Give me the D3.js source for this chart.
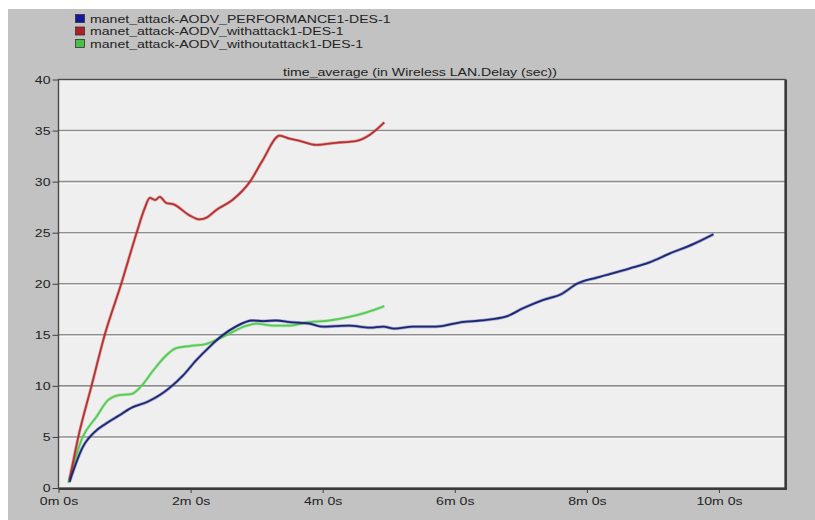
<!DOCTYPE html>
<html>
<head>
<meta charset="utf-8">
<script src="https://cdn.jsdelivr.net/npm/d3@7"></script>
<style>
  html, body { margin: 0; padding: 0; background: #ffffff; }
  svg { display: block; }
  text { font-family: "Liberation Sans", Arial, sans-serif; }
</style>
</head>
<body>
<script>
// ---- data (time in seconds, delay in seconds) ----
const seriesNames = [
  "manet_attack-AODV_PERFORMANCE1-DES-1",
  "manet_attack-AODV_withattack1-DES-1",
  "manet_attack-AODV_withoutattack1-DES-1"
];
const seriesColors = ["#1c2678", "#b83030", "#55cc55"];
const legendColors = ["#16169a", "#b02028", "#48c048"];

const blueT = [10, 22, 34, 43, 55, 67, 80, 92, 102, 113, 125, 137, 149, 161, 176, 186, 198, 210, 228, 240, 252, 264, 283, 295, 305, 322, 343, 364, 383, 407, 422, 440, 457, 471, 489, 519, 537, 555, 577, 595];
const blueV = [0.6, 4.0, 5.6, 6.3, 7.1, 7.9, 8.4, 9.1, 9.9, 11.0, 12.5, 13.8, 14.95, 15.8, 16.4, 16.35, 16.4, 16.25, 16.1, 15.8, 15.85, 15.9, 15.7, 15.8, 15.6, 15.8, 15.8, 16.2, 16.4, 16.8, 17.6, 18.4, 19.0, 20.0, 20.6, 21.5, 22.1, 22.95, 23.9, 24.85];

const redT = [10, 18, 30, 42, 57, 71, 78, 83, 88, 92, 98, 104, 119, 128, 135, 143, 158, 174, 185, 201, 210, 219, 234, 252, 271, 283, 296];
const redV = [0.8, 5.0, 10.0, 15.0, 20.0, 25.0, 27.3, 28.4, 28.2, 28.5, 27.9, 27.8, 26.7, 26.3, 26.5, 27.2, 28.2, 30.0, 32.0, 34.5, 34.2, 34.0, 33.6, 33.8, 34.0, 34.6, 35.8];

const greenT = [9, 22, 34, 45, 55, 66, 75, 86, 98, 107, 119, 134, 152, 171, 180, 195, 210, 228, 246, 264, 280, 296];
const greenV = [0.5, 5.0, 6.9, 8.6, 9.1, 9.2, 9.95, 11.5, 13.0, 13.7, 13.9, 14.1, 14.95, 15.9, 16.1, 15.9, 15.9, 16.25, 16.4, 16.75, 17.2, 17.8];

const xTickVals = [0, 120, 240, 360, 480, 600];
const xTickLabels = ["0m 0s", "2m 0s", "4m 0s", "6m 0s", "8m 0s", "10m 0s"];
const yTickVals = [0, 5, 10, 15, 20, 25, 30, 35, 40];
const chartTitle = "time_average (in Wireless LAN.Delay (sec))";

// ---- layout ----
const W = 815, H = 520;
const plot = { left: 58.5, right: 785, top: 79.5, bottom: 488 };
const FONT = '"Liberation Sans", Arial, sans-serif';
const STRETCH = 1.28;

const svg = d3.select("body").append("svg").attr("width", W).attr("height", H);

// widen text horizontally, like the reference's stretched rendering
function stretch(sel) {
  sel.each(function () {
    const w = this.getComputedTextLength();
    d3.select(this).attr("textLength", w * STRETCH).attr("lengthAdjust", "spacingAndGlyphs");
  });
}

// outer gray panel
svg.append("rect").attr("x", 8).attr("y", 9).attr("width", W - 8).attr("height", H - 9)
  .attr("fill", "#c2c2c2");

const x = d3.scaleLinear().domain([0, 660]).range([plot.left, plot.right]);
const y = d3.scaleLinear().domain([0, 40]).range([plot.bottom, plot.top]);

// plot background
svg.append("rect")
  .attr("x", plot.left).attr("y", plot.top)
  .attr("width", plot.right - plot.left).attr("height", plot.bottom - plot.top)
  .attr("fill", "#efefef");

// gridlines (grooved look)
const gridVals = yTickVals.filter(v => v > 0 && v < 40);
svg.append("g").selectAll("line").data(gridVals).join("line")
  .attr("x1", plot.left).attr("x2", plot.right)
  .attr("y1", d => y(d)).attr("y2", d => y(d))
  .attr("stroke", "#8e8e8e").attr("stroke-width", 1.6);
svg.append("g").selectAll("line").data(gridVals).join("line")
  .attr("x1", plot.left).attr("x2", plot.right)
  .attr("y1", d => y(d) + 1.5).attr("y2", d => y(d) + 1.5)
  .attr("stroke", "#fafafa").attr("stroke-width", 1);

// lines
const seriesData = [
  blueT.map((t, i) => [t, blueV[i]]),
  redT.map((t, i) => [t, redV[i]]),
  greenT.map((t, i) => [t, greenV[i]])
];
const line = d3.line().x(d => x(d[0])).y(d => y(d[1])).curve(d3.curveMonotoneX);
[2, 1, 0].forEach(i => {
  svg.append("path").datum(seriesData[i])
    .attr("fill", "none").attr("stroke", seriesColors[i])
    .attr("stroke-opacity", 0.35).attr("stroke-width", 3.2)
    .attr("stroke-linejoin", "round").attr("d", line);
  svg.append("path").datum(seriesData[i])
    .attr("fill", "none").attr("stroke", seriesColors[i])
    .attr("stroke-width", 1.8).attr("stroke-linejoin", "round").attr("d", line);
});

// frame
svg.append("rect")
  .attr("x", plot.left).attr("y", plot.top)
  .attr("width", plot.right - plot.left).attr("height", plot.bottom - plot.top)
  .attr("fill", "none").attr("stroke", "#4a4a4a").attr("stroke-width", 1.4);
svg.append("path")
  .attr("d", `M${plot.right + 1},${plot.top} V${plot.bottom + 1} H${plot.left}`)
  .attr("fill", "none").attr("stroke", "#3a3a3a").attr("stroke-width", 2);

// axes
const yAxis = d3.axisLeft(y).tickValues(yTickVals).tickSize(6).tickPadding(2).tickFormat(d3.format("d"));
const gy = svg.append("g").attr("transform", `translate(${plot.left},0)`).call(yAxis);
gy.select(".domain").remove();
gy.selectAll(".tick line").attr("stroke", "#404040");
gy.selectAll(".tick text").attr("fill", "#222").style("font-size", "11px").style("font-family", FONT)
  .call(stretch);

const xAxis = d3.axisBottom(x).tickValues(xTickVals).tickSize(4).tickPadding(4)
  .tickFormat((d, i) => xTickLabels[i]);
const gx = svg.append("g").attr("transform", `translate(0,${plot.bottom + 1})`).call(xAxis);
gx.select(".domain").remove();
gx.selectAll(".tick line").attr("stroke", "#404040");
gx.selectAll(".tick text").attr("fill", "#222").style("font-size", "11px").style("font-family", FONT)
  .call(stretch);

// title
svg.append("text").attr("x", 420).attr("y", 76)
  .attr("text-anchor", "middle").attr("fill", "#222")
  .style("font-size", "11px").style("font-family", FONT).text(chartTitle)
  .call(stretch);

// legend
const lg = svg.append("g");
seriesNames.forEach((name, i) => {
  const cy = 19 + i * 12.5;
  lg.append("rect").attr("x", 75.5).attr("y", cy - 4.5).attr("width", 9).attr("height", 8)
    .attr("fill", legendColors[i]).attr("stroke", "#333").attr("stroke-width", 0.8);
  lg.append("text").attr("x", 90).attr("y", cy + 3.5)
    .attr("fill", "#222").style("font-size", "11px").style("font-family", FONT).text(name)
    .call(stretch);
});
</script>
</body>
</html>
